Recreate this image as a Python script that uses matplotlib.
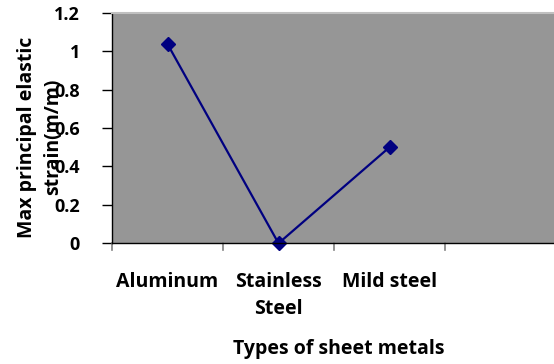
import matplotlib.pyplot as plt

# strain data per sheet metal
metals = ["Aluminum", "Stainless\nSteel", "Mild steel", ""]
strain = [1.037, 0.0, 0.5]
yticks = [0, 0.2, 0.4, 0.6, 0.8, 1, 1.2]

plt.rcParams['font.family'] = ['Open Sans', 'DejaVu Sans']
plt.rcParams['font.weight'] = 'bold'

W, H = 554, 364
fig = plt.figure(figsize=(W / 100, H / 100), dpi=100)
left, right, top, bottom = 112, 556, 12.7, 243.3
ax = fig.add_axes([left / W, 1 - bottom / H, (right - left) / W, (bottom - top) / H])
ax.set_facecolor('#969696')

x = list(range(len(strain)))
ax.plot(x, strain, color='#000080', lw=1.6, marker='D', markersize=7,
        markerfacecolor='#000080', markeredgecolor='#000080', clip_on=False)

FS = 14
ax.set_xlim(-0.5, len(metals) - 0.5)
ax.set_ylim(0, 1.2)
ax.set_yticks(yticks)
ax.set_yticklabels(['0', '0.2', '0.4', '0.6', '0.8', '1', '1.2'], fontsize=13, fontweight='bold')

# category labels centred in each bin, tick marks on the bin edges
ax.set_xticks(x + [3])
ax.set_xticklabels(metals, fontsize=FS, fontweight='bold', linespacing=1.45, va='top')
ax.tick_params(axis='x', length=0, pad=21)
for edge in [-0.5, 0.5, 1.5, 2.5]:
    ax.plot([edge, edge], [0, -0.035], color='#808080', lw=1.2, clip_on=False)
ax.tick_params(axis='y', length=7, width=1, direction='out', pad=16, color='black')

for s in ['left', 'bottom']:
    ax.spines[s].set_color('black')
    ax.spines[s].set_linewidth(1)
ax.spines['right'].set_visible(False)
ax.spines['top'].set_color('#c0c0c0')
ax.spines['top'].set_linewidth(1.5)

ax.set_xlabel("Types of sheet metals", fontsize=FS, fontweight='bold', va='center')
ax.xaxis.set_label_coords((339 - left) / (right - left), (bottom - 349) / (bottom - top))
ax.set_ylabel("Max principal elastic\nstrain(m/m)", fontsize=FS, fontweight='bold',
              linespacing=1.45, va='center')
ax.yaxis.set_label_coords((40 - left) / (right - left), (bottom - 137) / (bottom - top))

fig.savefig("out.png", dpi=100)
